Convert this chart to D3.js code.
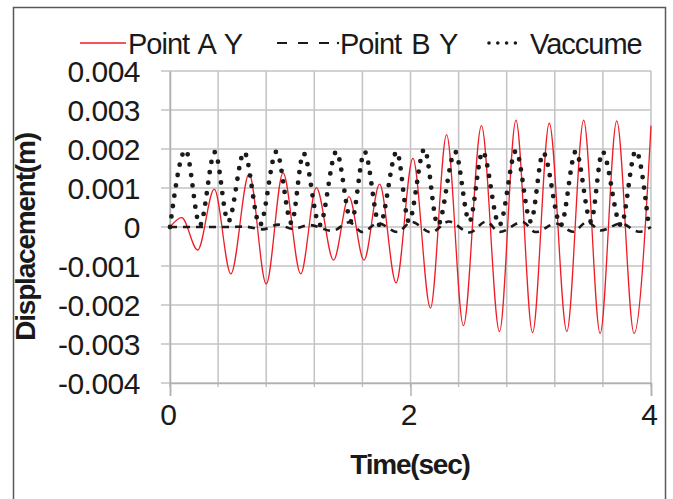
<!DOCTYPE html>
<html>
<head>
<meta charset="utf-8">
<script src="https://cdn.jsdelivr.net/npm/d3@7"></script>
<style>
  body { margin: 0; background: #fff; }
  text { font-family: "Liberation Sans", Arial, sans-serif; fill: #1a1a1a; }
</style>
</head>
<body>
<script>
// Point A Y (red line), peaks and troughs
var timeA = [0, 0.097, 0.23, 0.368, 0.506, 0.658, 0.80, 0.94, 1.087, 1.217, 1.36, 1.488, 1.613, 1.743, 1.88,
             2.02, 2.166, 2.30, 2.44, 2.59, 2.74, 2.877, 3.015, 3.154, 3.30, 3.44, 3.577, 3.715, 3.859, 4.0];
var pointA = [0, 0.00024, -0.00059, 0.00097, -0.0012, 0.00136, -0.00146, 0.00139, -0.0012, 0.00101, -0.00085, 0.00078, -0.00085, 0.0011, -0.00143,
              0.00176, -0.00208, 0.00237, -0.00253, 0.0026, -0.00268, 0.00274, -0.00271, 0.00266, -0.00268, 0.00274, -0.00273, 0.00272, -0.00273, 0.0026];

// Point B Y (dashed)
var timeB = [0, 0.5, 0.62, 0.77, 0.9, 1.02, 1.16, 1.35, 1.49, 1.60, 1.73, 1.89, 2.01, 2.17, 2.32, 2.49,
             2.63, 2.74, 2.93, 3.04, 3.21, 3.35, 3.47, 3.58, 3.75, 3.9, 4.0];
var pointB = [0, 0, 0.00001, -0.00006, 0.00006, -0.00005, 0.00005, -0.0001, 0.00012, -0.00013, 0.0001, -0.00013, 0.00013, -0.00014, 0.00014, -0.00014,
              0.00014, -0.00013, 0.00013, -0.00013, 0.00009, -0.00012, 0.00013, -0.00009, 0.00009, -0.00012, 0];

// Vaccume (dotted)
var timeV = [0, 0.13, 0.249, 0.373, 0.484, 0.617, 0.747, 0.885, 1.01, 1.11, 1.245, 1.383, 1.508, 1.618, 1.743, 1.886, 1.986,
             2.116, 2.227, 2.371, 2.49, 2.6, 2.739, 2.877, 3.0, 3.104, 3.25, 3.375, 3.5, 3.596, 3.75, 3.873, 3.98];
var vaccume = [0, 0.00197, 0.00005, 0.00192, 0.00014, 0.00192, 0.00005, 0.00193, 0.0001, 0.00189, 0.00005, 0.00193, 0.00014, 0.00193, 0.00005, 0.00193, 0.00014,
               0.002, 0.00005, 0.00193, 0.00014, 0.00193, 0.00005, 0.00195, 0.00014, 0.0019, 0.00005, 0.00194, 0.00014, 0.00193, 0.00005, 0.00195, 0.00005];

var xLabels = [0, 2, 4];
var xGrid = [0, 0.4, 0.8, 1.2, 1.6, 2, 2.4, 2.8, 3.2, 3.6, 4];
var yTicks = [-0.004, -0.003, -0.002, -0.001, 0, 0.001, 0.002, 0.003, 0.004];

var W = 673, H = 499;
var svg = d3.select("body").append("svg").attr("width", W).attr("height", H);

svg.append("rect")
    .attr("x", 13.5).attr("y", 7.5).attr("width", 652).attr("height", 500)
    .attr("fill", "#fff").attr("stroke", "#595959").attr("stroke-width", 1.5);

var x = d3.scaleLinear().domain([0, 4]).range([170, 651]);
var y = d3.scaleLinear().domain([-0.004, 0.004]).range([383, 71]);

// grid
svg.append("g").selectAll("line").data(yTicks).enter().append("line")
    .attr("x1", 161).attr("x2", x(4))
    .attr("y1", function(d) { return y(d); }).attr("y2", function(d) { return y(d); })
    .attr("stroke", "#c3c3c3").attr("stroke-width", 1.5);
svg.append("g").selectAll("line").data(xGrid).enter().append("line")
    .attr("x1", function(d) { return x(d); }).attr("x2", function(d) { return x(d); })
    .attr("y1", y(0.004)).attr("y2", y(-0.004) + 4)
    .attr("stroke", "#c3c3c3").attr("stroke-width", 1.5);

// axes
var xAxis = d3.axisBottom(x).tickValues(xLabels).tickSize(13).tickPadding(8).tickFormat(d3.format("d"));
var gx = svg.append("g").attr("transform", "translate(0," + y(-0.004) + ")").call(xAxis);
gx.select(".domain").attr("stroke", "#b0b0b0").attr("stroke-width", 1.5);
gx.selectAll(".tick line").attr("stroke", "#b0b0b0").attr("stroke-width", 1.5);
gx.selectAll(".tick text").style("font-size", "30px").attr("fill", "#1a1a1a").attr("dx", "-2");

var yAxis = d3.axisLeft(y).tickValues(yTicks).tickSize(0).tickPadding(30)
    .tickFormat(function(d) { return d === 0 ? "0" : d.toFixed(3); });
var gy = svg.append("g").attr("transform", "translate(" + x(0) + ",0)").call(yAxis);
gy.select(".domain").attr("stroke", "#b0b0b0").attr("stroke-width", 1.5);
gy.selectAll(".tick text").style("font-size", "30px").style("letter-spacing", "-0.5px")
    .attr("fill", "#1a1a1a").attr("dy", "0.36em");

// series
function drawLine(ts, vs, color, width, dash) {
    var pts = ts.map(function(t, i) { return [t, vs[i]]; });
    var line = d3.line()
        .x(function(d) { return x(d[0]); })
        .y(function(d) { return y(d[1]); })
        .curve(d3.curveMonotoneX);
    var p = svg.append("path").datum(pts)
        .attr("d", line)
        .attr("fill", "none")
        .attr("stroke", color)
        .attr("stroke-width", width);
    if (dash) p.attr("stroke-dasharray", dash);
    return p;
}
drawLine(timeA, pointA, "#ee1c25", 1.3);
drawLine(timeB, pointB, "#1a1a1a", 2.6, "7,6");
drawLine(timeV, vaccume, "#1a1a1a", 4.8, "0,10.5").attr("stroke-linecap", "round");

// legend
var ly = 43;
var leg = svg.append("g");
leg.append("line").attr("x1", 80).attr("x2", 126).attr("y1", ly).attr("y2", ly)
    .attr("stroke", "#ee1c25").attr("stroke-width", 1.5);
leg.append("text").attr("x", 128).attr("y", ly + 11).style("font-size", "29px")
    .style("letter-spacing", "-1px").style("word-spacing", "3px").text("Point A Y");
leg.append("line").attr("x1", 277).attr("x2", 332).attr("y1", ly).attr("y2", ly)
    .attr("stroke", "#1a1a1a").attr("stroke-width", 2).attr("stroke-dasharray", "10,11");
leg.append("circle").attr("cx", 338).attr("cy", ly).attr("r", 1.2).attr("fill", "#1a1a1a");
leg.append("text").attr("x", 340).attr("y", ly + 11).style("font-size", "29px")
    .style("letter-spacing", "-1px").style("word-spacing", "3px").text("Point B Y");
leg.append("line").attr("x1", 489).attr("x2", 524).attr("y1", ly).attr("y2", ly)
    .attr("stroke", "#1a1a1a").attr("stroke-width", 3.6).attr("stroke-linecap", "round")
    .attr("stroke-dasharray", "0,8.8");
leg.append("text").attr("x", 530).attr("y", ly + 11).style("font-size", "29px").style("letter-spacing", "-1px").text("Vaccume");

// axis titles
svg.append("text")
    .attr("transform", "translate(35," + 237 + ") rotate(-90)")
    .attr("text-anchor", "middle")
    .style("font-size", "28px").style("font-weight", "bold").style("letter-spacing", "-1.2px")
    .text("Displacement(m)");
svg.append("text")
    .attr("x", 410).attr("y", 474)
    .attr("text-anchor", "middle")
    .style("font-size", "28px").style("font-weight", "bold").style("letter-spacing", "-1.2px")
    .text("Time(sec)");
</script>
</body>
</html>
